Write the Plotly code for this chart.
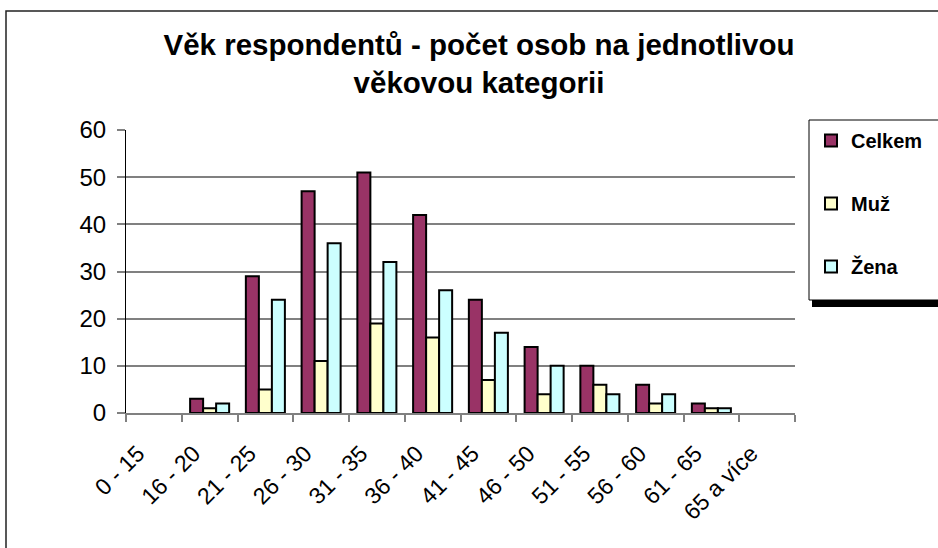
import plotly.graph_objects as go

# Age categories and counts per category
kategorie = ['0 - 15', '16 - 20', '21 - 25', '26 - 30', '31 - 35', '36 - 40',
             '41 - 45', '46 - 50', '51 - 55', '56 - 60', '61 - 65', '65 a více']
celkem = [0, 3, 29, 47, 51, 42, 24, 14, 10, 6, 2, 0]
muz = [0, 1, 5, 11, 19, 16, 7, 4, 6, 2, 1, 0]
zena = [0, 2, 24, 36, 32, 26, 17, 10, 4, 4, 1, 0]

FONT = 'Liberation Sans, Arial, sans-serif'
W, H = 938, 548
L, R, T, B = 126, 795, 130, 413   # plot area in pixels


def px_x(px):
    return (px - L) / (R - L)


def px_y(py):
    return (B - py) / (B - T)


fig = go.Figure()
series = [('Celkem', celkem, '#993366'), ('Muž', muz, '#FFFFCC'), ('Žena', zena, '#CCFFFF')]
for name, vals, col in series:
    # empty categories get no bar at all (like the original chart)
    fig.add_trace(go.Bar(
        x=kategorie, y=[v if v else None for v in vals], name=name, legendgroup=name,
        marker=dict(color=col, line=dict(color='black', width=2)),
    ))

# outer chart border
fig.add_shape(type='rect', xref='paper', yref='paper',
              x0=px_x(6), x1=px_x(960), y0=px_y(11), y1=px_y(570),
              line=dict(color='#222222', width=1.5), fillcolor='rgba(0,0,0,0)')
# legend box with shadow
fig.add_shape(type='rect', xref='paper', yref='paper',
              x0=px_x(812), x1=px_x(960), y0=px_y(300), y1=px_y(307),
              line=dict(width=0), fillcolor='black')
fig.add_shape(type='rect', xref='paper', yref='paper',
              x0=px_x(809), x1=px_x(960), y0=px_y(120), y1=px_y(300),
              line=dict(color='black', width=1), fillcolor='white')

fig.update_layout(
    width=W, height=H,
    margin=dict(l=L, r=W - R, t=T, b=H - B, autoexpand=False),
    paper_bgcolor='white', plot_bgcolor='white',
    font=dict(family=FONT, color='black'),
    title=dict(text='<b>Věk respondentů - počet osob na jednotlivou<br>věkovou kategorii</b>',
               x=479 / W, xanchor='center', y=1 - 55 / H, yanchor='top',
               font=dict(size=29.5, family=FONT, color='black')),
    barmode='group', bargap=0.3, bargroupgap=0,
    showlegend=True,
    legend=dict(x=px_x(811), xanchor='left', y=px_y(121), yanchor='top',
                bgcolor='rgba(0,0,0,0)', borderwidth=0,
                traceorder='grouped', tracegroupgap=34,
                font=dict(size=20, family=FONT, weight='bold')),
)

fig.update_xaxes(type='category', tickson='boundaries', ticks='outside', ticklen=7,
                 tickcolor='#808080', tickwidth=1.5,
                 showline=True, linecolor='#808080', linewidth=2,
                 tickangle=-45, tickfont=dict(size=23, family=FONT),
                 ticklabelstandoff=16, ticklabelshift=-16, showgrid=False)
fig.update_yaxes(range=[0, 60], dtick=10, ticks='outside', ticklen=8,
                 tickcolor='#808080', tickwidth=1.5,
                 showline=True, linecolor='black', linewidth=1,
                 showgrid=True, gridcolor='#808080', gridwidth=1.5,
                 zeroline=False, tickfont=dict(size=24, family=FONT),
                 ticklabelstandoff=6)

# page without the default body margin, so the figure fills the window exactly
fig.write_html('out.html', config={'displayModeBar': False},
               post_script="document.body.style.margin='0';")
